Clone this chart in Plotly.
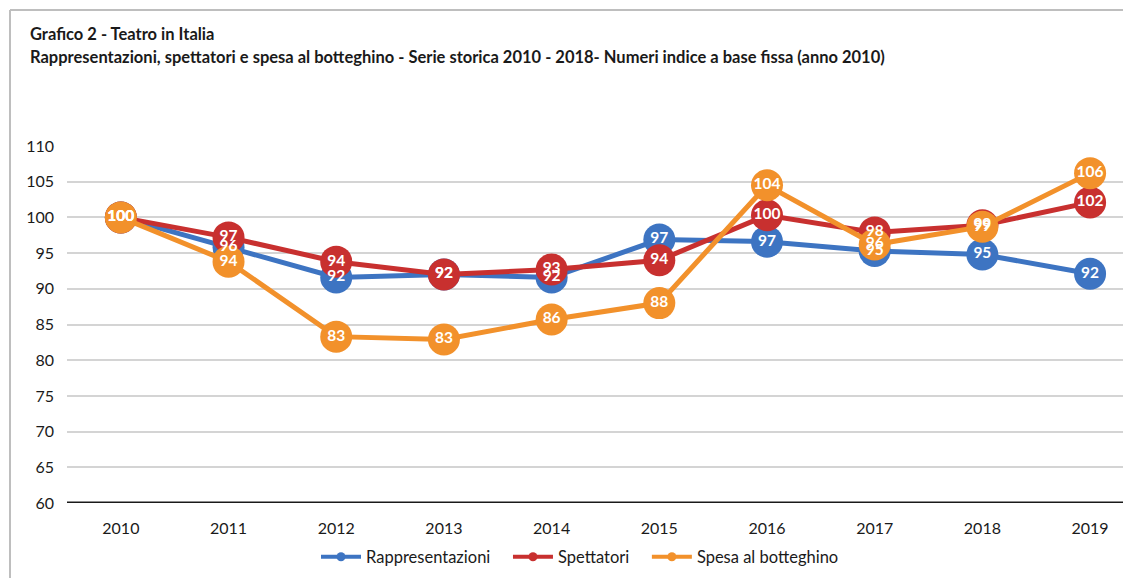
import plotly.graph_objects as go

years = ["2010", "2011", "2012", "2013", "2014", "2015", "2016", "2017", "2018", "2019"]
rappresentazioni = [100, 96, 92, 92, 92, 97, 97, 95, 95, 92]
rapp_pos = [100, 95.8, 91.6, 92.0, 91.6, 96.9, 96.6, 95.3, 94.8, 92.1]
spettatori = [100, 97, 94, 92, 93, 94, 100, 98, 99, 102]
spett_pos = [100, 97.2, 93.8, 92.0, 92.7, 94.0, 100.3, 97.9, 98.9, 102.1]
spesa = [100, 94, 83, 83, 86, 88, 104, 96, 99, 106]
spesa_pos = [100, 93.8, 83.3, 82.9, 85.7, 88.0, 104.5, 96.2, 98.7, 106.2]

series = [
    ("Rappresentazioni", rapp_pos, rappresentazioni, "#3D74C2"),
    ("Spettatori", spett_pos, spettatori, "#C8302F"),
    ("Spesa al botteghino", spesa_pos, spesa, "#F2912B"),
]
legend_pad = ["\u00a0\u00a0\u00a0", "\u00a0\u00a0\u00a0", ""]

FONT = "Lato"
OFF = 8  # page body margin
W, H = 1131 - OFF, 578 - OFF
L, R, T, B = 67 - OFF, 0, 146 - OFF, 578 - 503
xs = list(range(len(years)))

fig = go.Figure()
for name, pos, vals, col in series:
    fig.add_trace(go.Scatter(
        x=xs, y=pos, name=name, mode="lines+markers",
        line=dict(color=col, width=5),
        marker=dict(color=col, size=32),
        hoverinfo="skip", cliponaxis=False, showlegend=False,
    ))
for name, pos, vals, col in series:
    fig.add_trace(go.Scatter(
        x=xs, y=pos, mode="text", text=[str(v) for v in vals],
        textposition="middle center",
        textfont=dict(color="white", size=15.5, family=FONT, weight="bold"),
        showlegend=False, hoverinfo="skip", cliponaxis=False,
    ))
for (name, pos, vals, col), pad in zip(series, legend_pad):
    fig.add_trace(go.Scatter(
        x=[None], y=[None], name=name + pad, mode="lines+markers",
        line=dict(color=col, width=4), marker=dict(color=col, size=9),
        hoverinfo="skip",
    ))

pw = W - L - R
ph = H - T - B
def px_x(p):
    return (p - OFF - L) / pw
def px_y(p):
    return (H - B - (p - OFF)) / ph

fig.update_layout(
    width=W, height=H,
    margin=dict(l=L, r=R, t=T, b=B, autoexpand=False),
    paper_bgcolor="white", plot_bgcolor="white",
    font=dict(family=FONT, size=16, color="#1a1a1a"),
    xaxis=dict(
        range=[-0.5, 9.38], tickmode="array", tickvals=xs, ticktext=years,
        showgrid=False, zeroline=False, showline=False, ticks="",
        tickfont=dict(size=16, family=FONT, color="#1a1a1a"),
        ticklabelstandoff=14, fixedrange=True,
    ),
    yaxis=dict(
        range=[60, 110], tickmode="linear", tick0=60, dtick=5,
        showgrid=True, gridcolor="#D4D4D4", gridwidth=2,
        zeroline=False, showline=False, ticks="",
        tickfont=dict(size=16, family=FONT, color="#1a1a1a"),
        ticklabelstandoff=12, fixedrange=True,
    ),
    legend=dict(
        orientation="h", xref="container", yref="container",
        x=(580 - OFF) / W, y=1 - (557 - OFF) / H, xanchor="center", yanchor="middle",
        font=dict(size=16.5, family=FONT, color="#1a1a1a"),
        itemwidth=40, tracegroupgap=0,
    ),
    showlegend=True,
)

fig.add_shape(type="line", xref="paper", yref="y", x0=0, x1=1, y0=60, y1=60,
              line=dict(color="#1a1a1a", width=3), layer="above")

# chart frame
fig.add_shape(type="line", xref="paper", yref="paper",
              x0=px_x(10), x1=px_x(10), y0=px_y(10), y1=px_y(600),
              line=dict(color="#BEBEBE", width=2))
fig.add_shape(type="line", xref="paper", yref="paper",
              x0=px_x(10), x1=px_x(1200), y0=px_y(10), y1=px_y(10),
              line=dict(color="#BEBEBE", width=2))

fig.add_annotation(xref="paper", yref="paper", x=px_x(28), y=px_y(34),
                   xanchor="left", yanchor="middle", showarrow=False,
                   text="<b>Grafico 2 - Teatro in Italia</b>",
                   font=dict(size=16.5, family=FONT, color="#1a1a1a"))
fig.add_annotation(xref="paper", yref="paper", x=px_x(28), y=px_y(57),
                   xanchor="left", yanchor="middle", showarrow=False,
                   text="<b>Rappresentazioni, spettatori e spesa al botteghino - Serie storica 2010 - 2018- Numeri indice a base fissa (anno 2010)</b>",
                   font=dict(size=16.5, family=FONT, color="#1a1a1a"))

fig.write_html("out.html")
